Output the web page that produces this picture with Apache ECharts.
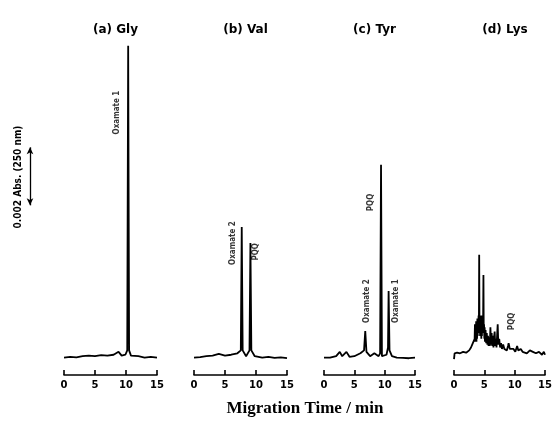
<!DOCTYPE html>
<html lang="en">
<head>
    <meta charset="UTF-8">
    <title>Electropherograms</title>
    <script src="https://cdn.jsdelivr.net/npm/echarts@6/dist/echarts.min.js"></script>
</head>
<body style="margin:0;background:#fff">
<div id="main" style="width:555px;height:436px;"></div>
<script type="text/javascript">
    // panel titles and x ticks
    var panelTitles = ['(a) Gly', '(b) Val', '(c) Tyr', '(d) Lys'];
    var timeTicks = [0, 5, 10, 15];

    // traces: [time (min), absorbance (mAbs)]
    var gly = [[0,0.05],[1,0.08],[2,0.06],[3,0.1],[4,0.12],[5,0.1],[6,0.14],[7,0.12],[8,0.15],[8.8,0.25],[9.3,0.12],[9.9,0.15],
        [10.2,0.3],[10.35,10.8],[10.5,0.3],[10.8,0.12],[12,0.1],[13,0.05],[14,0.08],[15,0.05]];
    var val = [[0,0.05],[1,0.07],[2,0.1],[3,0.12],[4,0.18],[5,0.12],[6,0.15],[7,0.2],[7.55,0.3],[7.7,4.55],[7.85,0.3],[8.4,0.1],
        [8.95,0.3],[9.1,4.0],[9.25,0.3],[9.8,0.1],[11,0.05],[12,0.08],[13,0.04],[14,0.06],[15,0.03]];
    var tyr = [[0,0.05],[1,0.05],[2,0.1],[2.6,0.25],[3.0,0.1],[3.7,0.25],[4.2,0.08],[5,0.1],[6,0.2],[6.6,0.3],[6.8,0.97],[7.0,0.25],
        [7.6,0.1],[8.3,0.2],[9.0,0.1],[9.25,0.2],[9.4,6.7],[9.55,0.1],[10.3,0.15],[10.55,0.4],[10.65,2.35],[10.8,0.3],[11.2,0.1],
        [12,0.05],[13,0.04],[14,0.03],[15,0.05]];
    var lys = [[0,0],[0.1,0.2],[0.5,0.22],[1,0.2],[1.5,0.25],[2,0.22],[2.5,0.3],[2.8,0.4],[3.0,0.5],[3.2,0.45],[3.4,0.7],[3.45,1.2],
        [3.5,0.6],[3.55,1.1],[3.6,0.7],[3.65,1.3],[3.7,0.6],[3.75,1.2],[3.8,0.7],[3.85,1.4],[3.9,0.8],[3.95,1.3],[4.0,0.9],[4.05,1.5],
        [4.1,1.0],[4.15,3.6],[4.2,1.0],[4.25,1.5],[4.3,0.8],[4.35,1.4],[4.4,0.8],[4.45,1.3],[4.5,0.7],[4.55,1.5],[4.6,0.8],[4.65,1.3],
        [4.7,0.9],[4.8,1.4],[4.85,2.9],[4.9,0.9],[4.95,1.2],[5.0,0.7],[5.05,1.1],[5.1,0.6],[5.2,1.0],[5.3,0.55],[5.4,0.9],[5.5,0.5],
        [5.6,0.8],[5.7,0.45],[5.8,0.75],[5.9,0.45],[6.0,1.1],[6.1,0.5],[6.2,0.9],[6.3,0.45],[6.4,0.8],[6.5,0.4],[6.6,0.75],[6.7,0.95],
        [6.8,0.45],[6.9,0.7],[7.0,0.4],[7.1,0.8],[7.2,1.2],[7.3,0.5],[7.45,0.7],[7.6,0.4],[7.75,0.55],[7.9,0.35],[8.1,0.5],[8.3,0.35],
        [8.5,0.4],[8.7,0.3],[8.9,0.45],[9.0,0.55],[9.2,0.35],[9.5,0.3],[9.8,0.35],[10.1,0.25],[10.4,0.45],[10.6,0.3],[11,0.35],
        [11.3,0.25],[11.6,0.3],[12,0.2],[12.5,0.3],[13,0.25],[13.5,0.2],[14,0.25],[14.5,0.15],[14.8,0.25],[15,0.15]];

    // peak labels: [time, mAbs, text]
    var notesA = [[8.6,8.5,'Oxamate 1']];
    var notesB = [[6.3,4.0,'Oxamate 2'],[10.0,3.7,'PQQ']];
    var notesC = [[7.8,5.4,'PQQ'],[7.0,2.0,'Oxamate 2'],[11.8,2.0,'Oxamate 1']];
    var notesD = [[9.6,1.3,'PQQ']];

    // 0.002 Abs scale bar, in mAbs
    var scaleBar = [5.3, 7.3];

    var traces = [gly, val, tyr, lys];
    var notes = [notesA, notesB, notesC, notesD];
    var lefts = [64, 194, 324, 454];
    var widths = [93, 93, 91, 92];

    var myChart = echarts.init(document.getElementById('main'));

    var grids = [], xAxes = [], yAxes = [], series = [], titles = [];
    for (var i = 0; i < 4; i++) {
        grids.push({left: lefts[i], width: widths[i], top: 40, bottom: 74});
        xAxes.push({
            gridIndex: i, type: 'value', min: 0, max: 15, interval: 5, offset: 13,
            axisLine: {show: true, onZero: false, lineStyle: {color: '#000', width: 1.6}},
            axisTick: {show: true, inside: true, length: 5, lineStyle: {color: '#000', width: 1.6}},
            axisLabel: {color: '#000', fontWeight: 'bold', fontSize: 10, fontFamily: 'DejaVu Sans', margin: 5,
                formatter: function (v) { return timeTicks.indexOf(v) >= 0 ? v : ''; }},
            splitLine: {show: false}
        });
        yAxes.push({gridIndex: i, type: 'value', min: -0.1, max: 11, show: false});
        series.push({
            type: 'line', xAxisIndex: i, yAxisIndex: i, data: traces[i], showSymbol: false,
            lineStyle: {color: '#000', width: 1.8}, silent: true
        });
        series.push({
            type: 'scatter', xAxisIndex: i, yAxisIndex: i, data: notes[i], symbolSize: 0,
            label: {show: true, position: 'inside', rotate: 90, color: '#000', fontSize: 8, fontWeight: 'bold',
                fontFamily: 'DejaVu Sans Condensed', formatter: function (p) { return p.data[2]; }}
        });
        titles.push({
            text: panelTitles[i], left: lefts[i] + widths[i] / 2, top: 19, textAlign: 'center',
            textStyle: {fontSize: 12, fontWeight: 'bold', fontFamily: 'DejaVu Sans', color: '#000'}
        });
    }

    // scale bar grid
    grids.push({left: 25, width: 10, top: 40, bottom: 74});
    xAxes.push({gridIndex: 4, type: 'value', min: 0, max: 1, show: false});
    yAxes.push({gridIndex: 4, type: 'value', min: -0.1, max: 11, show: false});
    series.push({
        type: 'line', xAxisIndex: 4, yAxisIndex: 4, data: [], silent: true,
        markLine: {
            silent: true, symbol: ['arrow', 'arrow'], symbolSize: [5, 7],
            lineStyle: {color: '#000', width: 1.3, type: 'solid'}, label: {show: false},
            data: [[{coord: [0.5, scaleBar[0]]}, {coord: [0.5, scaleBar[1]]}]]
        }
    });

    titles.push({
        text: 'Migration Time / min', left: 300, top: 395, textAlign: 'center',
        textStyle: {fontSize: 17, fontWeight: 'bold', fontFamily: 'Liberation Serif', color: '#000'}
    });

    var option = {
        animation: false,
        title: titles,
        grid: grids,
        xAxis: xAxes,
        yAxis: yAxes,
        series: series,
        graphic: [{
            type: 'text', x: 18, y: 177, rotation: Math.PI / 2,
            style: {text: '0.002 Abs. (250 nm)', fill: '#000', font: 'bold 10px "DejaVu Sans Condensed"',
                align: 'center', verticalAlign: 'middle'}
        }]
    };
    myChart.setOption(option);
</script>
</body>
</html>
